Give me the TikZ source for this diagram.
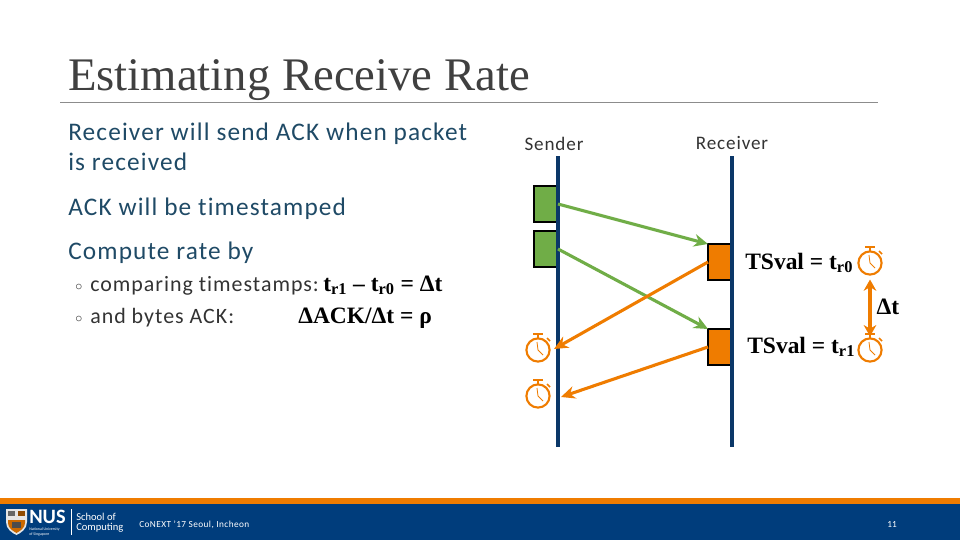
\documentclass[tikz,border=0pt]{standalone}
\usepackage{fontspec}
\setmainfont{Carlito}
\newfontfamily\titlefont{Liberation Serif}
\newfontfamily\eqfont{Liberation Serif}
\newfontfamily\bodyfont[LetterSpace=4.5,Ligatures=NoCommon]{Carlito}
\usetikzlibrary{arrows.meta}
\definecolor{nusblue}{HTML}{003D7C}
\definecolor{nusorange}{HTML}{EF7C00}
\definecolor{pktgreen}{HTML}{70AD47}
\definecolor{lifeblue}{HTML}{0B3768}
\definecolor{headteal}{HTML}{1F4A66}
\tikzset{
    titletxt/.style={anchor=base west, inner sep=0, text=black!75, font=\titlefont\fontsize{33.2}{36}\selectfont},
    bodytxt/.style={anchor=base west, inner sep=0, text=headteal, font=\bodyfont\fontsize{18}{21}\selectfont},
    subtxt/.style={anchor=base west, inner sep=0, text=black!80, font=\bodyfont\fontsize{15.6}{18}\selectfont},
    dottxt/.style={anchor=base west, inner sep=0, text=black!80, font=\fontsize{10}{12}\selectfont},
    eqtxt/.style={anchor=base west, inner sep=0, text=black, font=\eqfont\bfseries\fontsize{16.7}{18}\selectfont},
    lanetxt/.style={inner sep=0, text=black!80, font=\bodyfont\fontsize{13.6}{16}\selectfont},
    foottxt/.style={anchor=base west, inner sep=0, text=white},
    pktbox/.style={draw=black, line width=1.1pt, fill=pktgreen, minimum width=0.6cm, minimum height=0.9cm, inner sep=0, outer sep=0},
    ackbox/.style={pktbox, fill=nusorange},
    lifeline/.style={line width=2.2pt, lifeblue},
    pktarrow/.style={-{Stealth[length=10pt,width=9pt]}, line width=2.2pt, pktgreen},
    ackarrow/.style={-{Stealth[length=10pt,width=9pt]}, line width=2.2pt, nusorange},
    clockface/.style={circle, draw=nusorange, line width=1.5pt, minimum size=0.58cm, inner sep=0, outer sep=0},
}
% stopwatch: name, position
\newcommand{\stopwatch}[2]{
    \node[clockface] (#1) at (#2) {};
    \begin{scope}[shift={(#1.center)}, nusorange]
        \draw[line width=1.4pt] (-5,-16) -- (5,-16);
        \draw[line width=1.2pt] (0,-16) -- (0,-12);
        \draw[line width=1.2pt] (9,-12) -- (12,-9);
        \draw[line width=0.6pt] (-1,-8) -- (0,0) -- (5,5);
    \end{scope}
}
\begin{document}
\begin{tikzpicture}[x=0.025cm, y=-0.025cm]
    \useasboundingbox (0,0) rectangle (960,540);

    % Title
    \node[titletxt] (title) at (68,90) {Estimating Receive Rate};
    \coordinate (ruleL) at (60,102);
    \coordinate (ruleR) at (878,102);
    \draw[black!45, line width=0.7pt] (ruleL) -- (ruleR);

    % Left text
    \node[bodytxt] (recvA) at (68,140) {Receiver will send ACK when packet};
    \node[bodytxt] (recvB) at (68,170) {is received};
    \node[bodytxt] (stamp) at (68,215) {ACK will be timestamped};
    \node[bodytxt] (rate) at (68,259) {Compute rate by};
    \node[dottxt] (dotA) at (75,290) {$\circ$};
    \node[subtxt] (bulA) at (90,291) {comparing timestamps:};
    \node[eqtxt] (eqA) at (323,291) {t\textsubscript{r1} – t\textsubscript{r0} = Δt};
    \node[dottxt] (dotB) at (75,322) {$\circ$};
    \node[subtxt] (bulB) at (90,323) {and bytes ACK:};
    \node[eqtxt] (eqB) at (298,323) {ΔACK/Δt = ρ};

    % Sender and receiver
    \node[lanetxt] (sender) at (554,144) {Sender};
    \node[lanetxt] (receiver) at (732,143) {Receiver};

    % Packets and acks
    \node[pktbox] (pktA) at (546,204) {};
    \node[pktbox] (pktB) at (546,249) {};
    \node[ackbox] (ackA) at (720,262) {};
    \node[ackbox] (ackB) at (720,347) {};

    % Lifelines
    \coordinate (senderTop) at (558,156);
    \coordinate (senderEnd) at (558,447);
    \coordinate (receiverTop) at (732,156);
    \coordinate (receiverEnd) at (732,447);
    \draw[lifeline] (senderTop) -- (senderEnd);
    \draw[lifeline] (receiverTop) -- (receiverEnd);

    % Arrows
    \coordinate (backA) at (554,349);
    \coordinate (backB) at (561,397);
    \draw[pktarrow] (pktA.east) -- (ackA.north west);
    \draw[pktarrow] (pktB.east) -- (ackB.north west);
    \draw[ackarrow] (ackA.west) -- (backA);
    \draw[ackarrow] (ackB.west) -- (backB);

    % Stopwatches
    \stopwatch{clockS0}{538,350}
    \stopwatch{clockS1}{538,396}
    \stopwatch{clockR0}{870,263}
    \stopwatch{clockR1}{870,350}

    \node[eqtxt] (tsvalA) at (745,269) {TSval = t\textsubscript{r0}};
    \node[eqtxt] (tsvalB) at (747,353) {TSval = t\textsubscript{r1}};
    \draw[{Stealth[length=8pt,width=9pt]}-{Stealth[length=8pt,width=9pt]}, line width=2.4pt, nusorange, shorten <=3.5pt, shorten >=1.5pt] (clockR0.south) -- (clockR1.north);
    \node[eqtxt, anchor=center] (delta) at (888,307) {Δt};

    % Footer
    \fill[nusblue] (0,504) rectangle (960,540);
    \fill[nusorange] (0,498) rectangle (960,504);
    % crest
    \fill[white!90!black] (6,509) -- (27,509) -- (27,522) .. controls (27,529) and (21,533) .. (16.5,535) .. controls (12,533) and (6,529) .. (6,522) -- cycle;
    \fill[nusorange!85!black] (8,520) -- (25,520) -- (25,523) .. controls (25,528) and (20,531) .. (16.5,533) .. controls (13,531) and (8,528) .. (8,523) -- cycle;
    \fill[black!60] (8,511) rectangle (15,516);
    \fill[nusorange!60!black] (18,511) rectangle (25,516);
    \fill[black!70] (12,522) rectangle (21,528);
    \node[foottxt, font=\bfseries\fontsize{14.5}{16}\selectfont] (nus) at (29,523.5) {NUS};
    \node[foottxt, font=\fontsize{2.8}{4}\selectfont] (natlA) at (29,530) {National University};
    \node[foottxt, font=\fontsize{2.8}{4}\selectfont] (natlB) at (29,535) {of Singapore};
    \coordinate (sepT) at (71,509);
    \coordinate (sepB) at (71,535);
    \draw[white, line width=0.4pt] (sepT) -- (sepB);
    \node[foottxt, font=\fontsize{7.5}{9}\selectfont] (schoolA) at (76,520) {School of};
    \node[foottxt, font=\fontsize{7.5}{9}\selectfont] (schoolB) at (76,530) {Computing};
    \node[foottxt, font=\bodyfont\fontsize{6.6}{8}\selectfont] (venue) at (139,527) {CoNEXT ’17 Seoul, Incheon};
    \node[foottxt, font=\fontsize{6.6}{8}\selectfont, anchor=base] (page) at (892,527) {11};
\end{tikzpicture}
\end{document}
